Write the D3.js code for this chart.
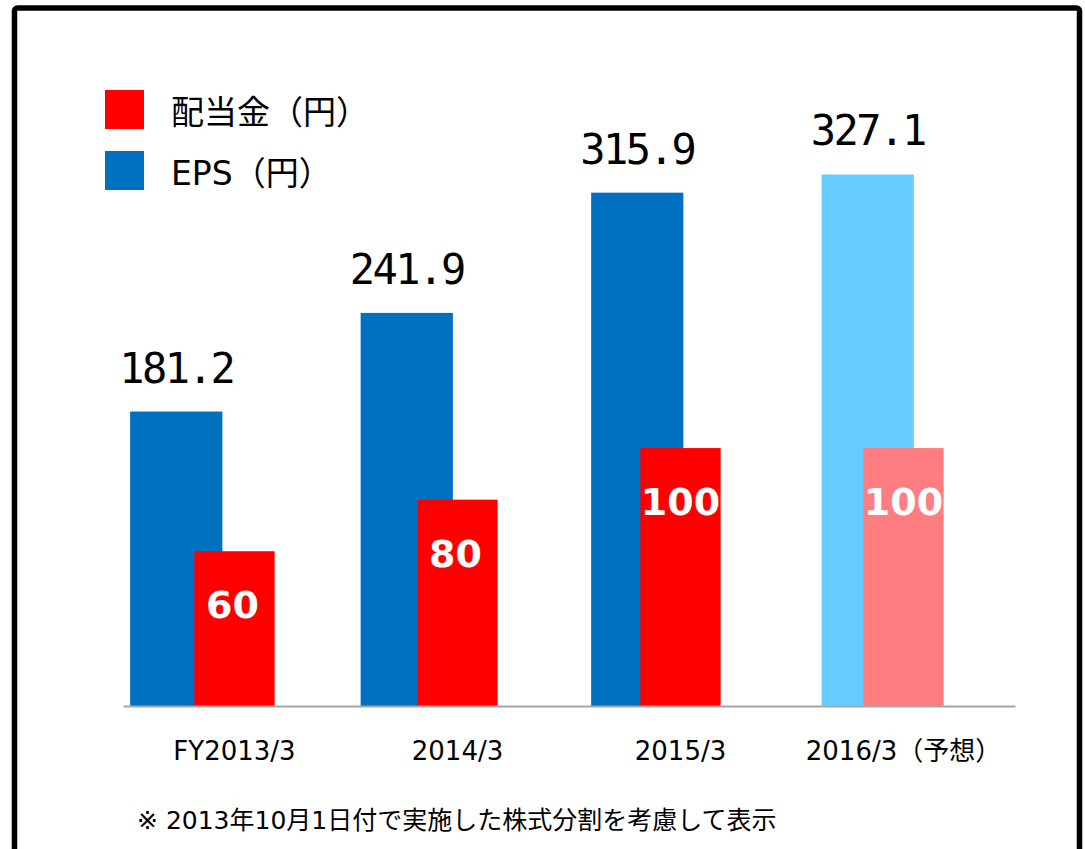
<!DOCTYPE html>
<html>
<head>
<meta charset="utf-8">
<script src="https://cdn.jsdelivr.net/npm/d3@7"></script>
<style>
  html, body { margin: 0; padding: 0; background: #fff; }
  svg { display: block; }
  text { font-family: "DejaVu Sans", "Noto Sans CJK JP", sans-serif; }
</style>
</head>
<body>
<svg id="chart" width="1085" height="849"></svg>
<script>
// Fiscal years and per-share figures (yen)
const categories = ["FY2013/3", "2014/3", "2015/3", "2016/3（予想）"];
const epsValues = [181.2, 241.9, 315.9, 327.1];
const dividendValues = [60, 80, 100, 100];
const forecast = [false, false, false, true];
const legendLabels = ["配当金（円）", "EPS（円）"];
const footnote = "※ 2013年10月1日付で実施した株式分割を考慮して表示";

const colors = {
  eps: "#0070C0", epsForecast: "#66CCFF",
  div: "#FF0000", divForecast: "#FF7C80"
};

const svg = d3.select("#chart");
const baseY = 706, topY = 56;

// Two value axes: EPS on one scale, dividends on another
const yEps = d3.scaleLinear().domain([0, 400]).range([baseY, topY]);
const yDiv = d3.scaleLinear().domain([0, 252]).range([baseY, topY]);

// Separate band scales so the dividend bars sit offset over the EPS bars
const xEps = d3.scaleBand().domain(categories).range([61, 983])
  .paddingInner(0.6).paddingOuter(0.3);
const xDiv = d3.scaleBand().domain(categories).range([123, 1015])
  .paddingInner(0.64).paddingOuter(0.32);

// Outer frame
svg.append("rect")
  .attr("x", 14.5).attr("y", 8)
  .attr("width", 1065).attr("height", 900)
  .attr("rx", 3)
  .attr("fill", "none").attr("stroke", "#000").attr("stroke-width", 5.5);

const rows = categories.map((c, i) => ({
  cat: c, eps: epsValues[i], div: dividendValues[i], fc: forecast[i]
}));

// EPS bars
svg.append("g").selectAll("rect").data(rows).join("rect")
  .attr("x", d => xEps(d.cat))
  .attr("y", d => yEps(d.eps))
  .attr("width", xEps.bandwidth())
  .attr("height", d => baseY - yEps(d.eps))
  .attr("fill", d => d.fc ? colors.epsForecast : colors.eps);

// EPS value labels above bars
svg.append("g").selectAll("text").data(rows).join("text")
  .attr("x", d => xEps(d.cat) + xEps.bandwidth() / 2)
  .attr("y", d => yEps(d.eps) - 29)
  .attr("text-anchor", "middle")
  .style("font-family", "'DejaVu Sans Mono', monospace")
  .style("font-size", "42px")
  .style("letter-spacing", "-2.5px")
  .attr("fill", "#000")
  .text(d => d.eps.toFixed(1));

// Dividend bars
svg.append("g").selectAll("rect").data(rows).join("rect")
  .attr("x", d => xDiv(d.cat))
  .attr("y", d => yDiv(d.div))
  .attr("width", xDiv.bandwidth())
  .attr("height", d => baseY - yDiv(d.div))
  .attr("fill", d => d.fc ? colors.divForecast : colors.div);

// Dividend value labels inside bars
svg.append("g").selectAll("text").data(rows).join("text")
  .attr("x", d => xDiv(d.cat) + xDiv.bandwidth() / 2 - (d.div < 100 ? 2 : 0))
  .attr("y", d => yDiv(d.div) + 67)
  .attr("text-anchor", "middle")
  .style("font-size", "38px")
  .style("font-weight", "bold")
  .attr("fill", "#fff")
  .text(d => d.div);

// Category axis
const axis = svg.append("g")
  .attr("transform", `translate(0,${baseY})`)
  .call(d3.axisBottom(xDiv).tickSize(0).tickSizeOuter(0));
axis.select(".domain").attr("stroke", "#A6A6A6").attr("stroke-width", 2);
axis.selectAll(".tick text")
  .attr("y", 54).attr("dy", 0)
  .style("font-family", "'DejaVu Sans', 'Noto Sans CJK JP', sans-serif")
  .style("font-size", "26px")
  .attr("fill", "#000");

// Legend
const legendColors = [colors.div, colors.eps];
const legend = svg.append("g").selectAll("g").data(legendLabels).join("g")
  .attr("transform", (d, i) => `translate(105,${90 + i * 61})`);
legend.append("rect")
  .attr("width", 39).attr("height", 39)
  .attr("fill", (d, i) => legendColors[i]);
legend.append("text")
  .attr("x", 66).attr("y", 34)
  .style("font-size", "33px")
  .attr("fill", "#000")
  .text(d => d);

// Footnote
svg.append("text")
  .attr("x", 137).attr("y", 829)
  .style("font-size", "25px")
  .attr("fill", "#000")
  .text(footnote);
</script>
</body>
</html>
